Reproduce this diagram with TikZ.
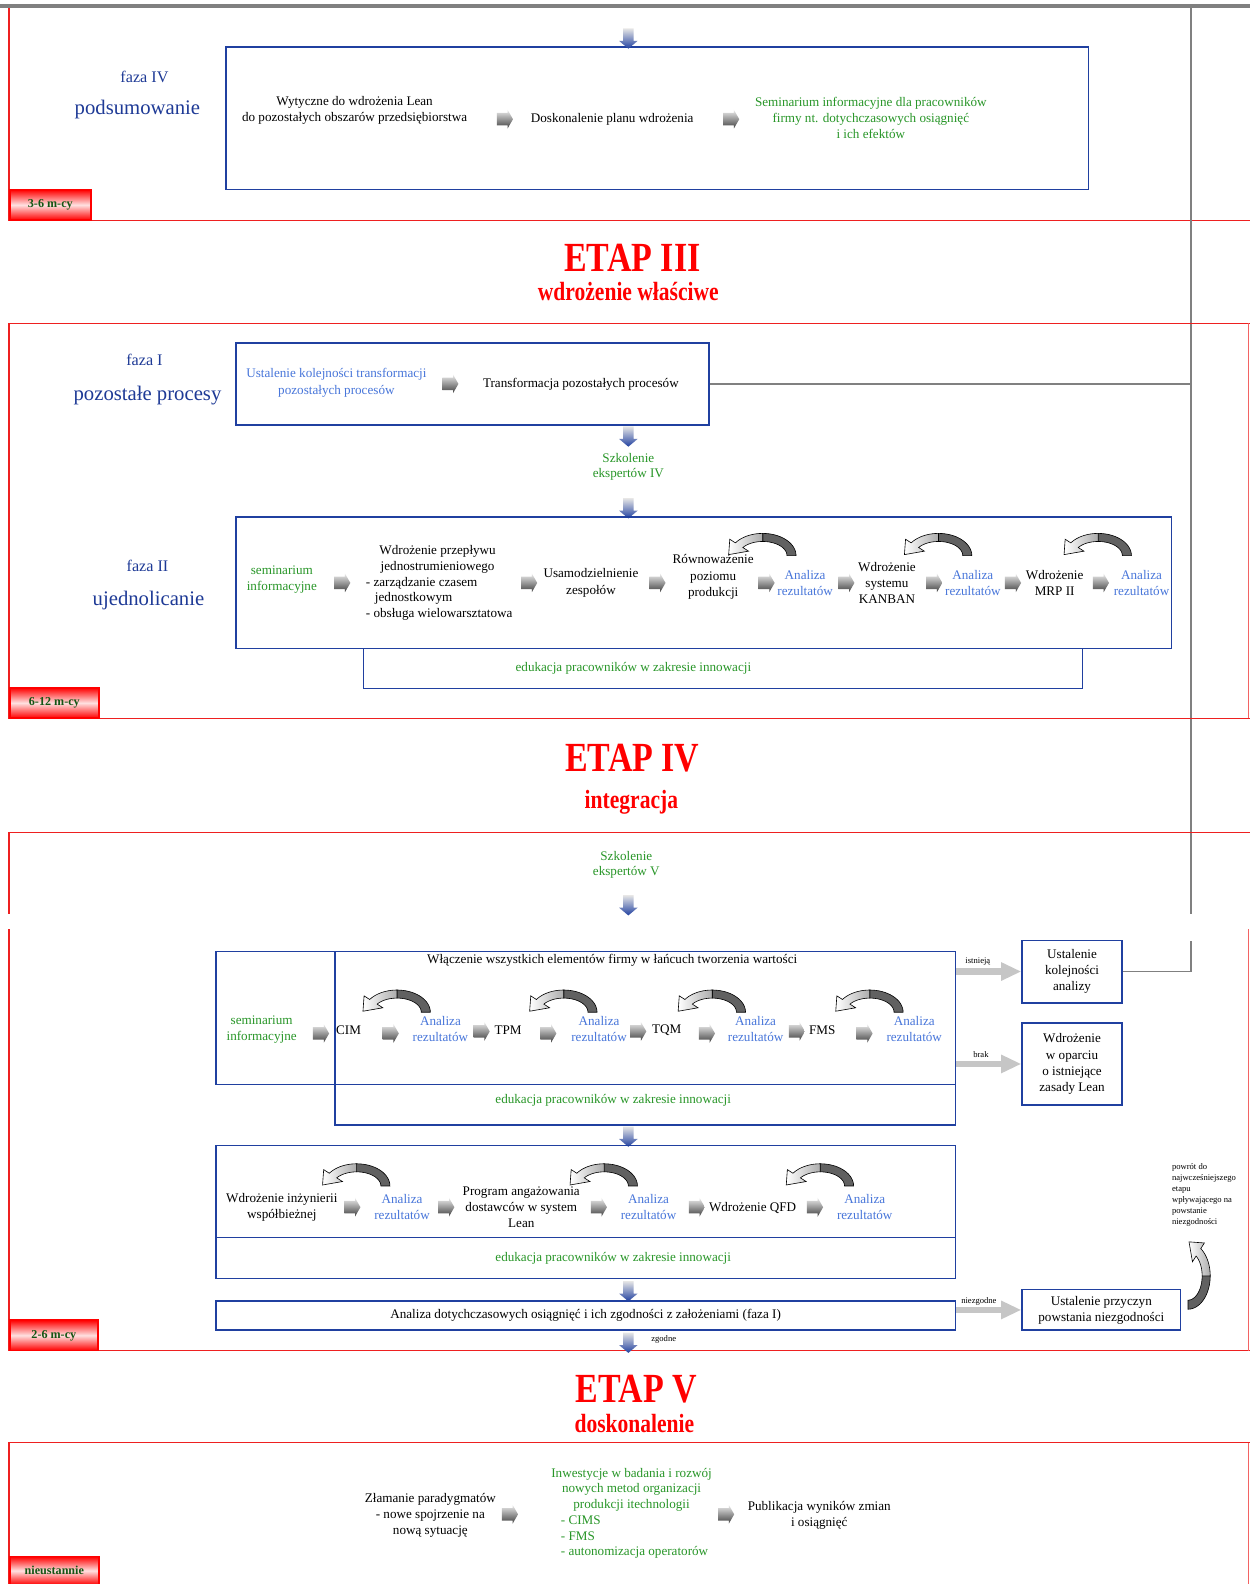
\documentclass[tikz,border=0pt]{standalone}
\usepackage{fontspec}
\setmainfont{Liberation Serif}
\newfontfamily\condfont{Liberation Serif}[FakeStretch=0.82]
\usetikzlibrary{shapes.arrows,arrows.meta}
\definecolor{fazablue}{RGB}{30,58,150}
\definecolor{boxblue}{RGB}{32,64,160}
\definecolor{anblue}{RGB}{72,118,218}
\definecolor{grn}{RGB}{40,150,40}
\definecolor{lblgreen}{RGB}{20,85,20}
\definecolor{redline}{RGB}{238,32,32}
\definecolor{linkgray}{RGB}{128,128,128}
\tikzset{
  every node/.style={font=\fontsize{13}{16}\selectfont, inner sep=0pt, align=center},
  bluebox/.style={draw=boxblue, line width=1.4pt, anchor=north west, inner sep=0pt},
  rframe/.style={draw=redline, line width=1.4pt},
  rside/.style={draw=redline!70, line width=1.2pt},
  fazatxt/.style={text=fazablue, font=\fontsize{16}{19}\selectfont},
  fazabig/.style={text=fazablue, font=\fontsize{20.5}{24}\selectfont},
  etap/.style={text=red, font=\condfont\bfseries\fontsize{41}{45}\selectfont},
  etapsub/.style={text=red, font=\condfont\bfseries\fontsize{26}{30}\selectfont},
  gtxt/.style={text=grn},
  atxt/.style={text=anblue},
  tinytxt/.style={font=\fontsize{8.5}{11}\selectfont},
  garr/.style={single arrow, draw=none, minimum height=16pt, inner xsep=4pt, inner ysep=6pt,
    single arrow head extend=3pt, single arrow tip angle=120,
    top color=gray!15, bottom color=black!75},
  darr/.style={single arrow, shape border rotate=270, draw=none, minimum height=20pt,
    inner xsep=5pt, inner ysep=4pt, single arrow head extend=4pt, single arrow tip angle=100,
    top color=gray!20, bottom color=boxblue},
  bigarr/.style={draw=gray!45, line width=6pt, -{Triangle[width=17pt,length=20pt]}},
  glink/.style={draw=linkgray, line width=1.2pt},
  mlabel/.style={draw=red, line width=1.6pt, anchor=north west, inner sep=0pt,
    top color=red, bottom color=red, middle color=red!12, text=lblgreen,
    font=\bfseries\fontsize{12}{14}\selectfont},
  pics/uturn/.style={code={
    \path[draw=black, line width=0.6pt, fill=black!62]
      plot[domain=0:-90, samples=18] ({33*cos(\x)},{22*sin(\x)})
      -- plot[domain=-90:0, samples=18] ({24*cos(\x)},{14*sin(\x)}) -- cycle;
    \path[draw=black, line width=0.6pt, left color=white, right color=gray!65]
      plot[domain=-90:-145, samples=12] ({33*cos(\x)},{22*sin(\x)})
      -- (-32.6,-16.2) -- (-33.7,-1) -- (-14.0,-4.4)
      -- plot[domain=-145:-90, samples=12] ({24*cos(\x)},{14*sin(\x)}) -- cycle;
  }},
}
\begin{document}
\begin{tikzpicture}[x=1pt,y=-1pt]
\useasboundingbox (0,0) rectangle (1237,1568);
\fill[white] (0,0) rectangle (1237,1568);

% ================= faza IV
\draw[linkgray, line width=4pt] (0,6) -- (1237,6);
\draw[rframe] (9,8) -- (9,218) -- (1237,218);
\coordinate (vtop) at (1179,8);
\coordinate (vbrk) at (1179,905);
\draw[glink] (vtop) -- (vbrk);

\node[fazatxt] (f4) at (143,76) {faza IV};
\node[fazabig] (f4b) at (136,108) {podsumowanie};
\node[bluebox, minimum width=854pt, minimum height=141pt] (b4) at (223,46) {};
\node[darr] (d0) at (622,36) {};
\node (t41) at (351,109) {Wytyczne do wdrożenia Lean\\do pozostałych obszarów przedsiębiorstwa};
\node[garr] (a41) at (498,118) {};
\node (t42) at (606,118) {Doskonalenie planu wdrożenia};
\node[garr] (a42) at (722,118) {};
\node[gtxt] (t43) at (862,117) {Seminarium informacyjne dla pracowników\\firmy nt. dotychczasowych osiągnięć\\i ich efektów};
\node[mlabel, minimum width=80pt, minimum height=30pt] (l1) at (9,187) {3-6 m-cy};

% ================= ETAP III
\node[etap] (e3) at (626,255) {ETAP III};
\node[etapsub] (e3s) at (622,289) {wdrożenie właściwe};

\draw[rframe] (1237,320) -- (9,320) -- (9,711) -- (1237,711);
\draw[rside] (1236,320) -- (1236,711);

\node[fazatxt] (f1) at (143,356) {faza I};
\node[fazabig] (f1b) at (146,392) {pozostałe procesy};
\node[bluebox, minimum width=468pt, minimum height=81pt] (b1) at (233,339) {};
\node[atxt] (t11) at (333,379) {Ustalenie kolejności transformacji\\pozostałych procesów};
\node[garr] (a11) at (444,380) {};
\node (t12) at (575,380) {Transformacja pozostałych procesów};
\draw[glink] (b1.east) -- (b1.east -| vtop);

\node[darr] (d1) at (622,430) {};
\node[gtxt, font=\fontsize{13}{15}\selectfont] (sz4) at (622,462) {Szkolenie\\ekspertów IV};
\node[darr] (d2) at (622,501) {};

\node[fazatxt] (f2) at (146,560) {faza II};
\node[fazabig] (f2b) at (147,594) {ujednolicanie};
\node[bluebox, minimum width=926pt, minimum height=130pt] (b2) at (233,511) {};
\node[bluebox, minimum width=712pt, minimum height=40pt] (e2) at (359,641) {};
\node[gtxt] (e2t) at (627,662) {edukacja pracowników w zakresie innowacji};

\node[gtxt] (r1) at (279,574) {seminarium\\informacyjne};
\node[garr] (ra1) at (337,577) {};
\node[anchor=west, align=left, font=\fontsize{13}{15.7}\selectfont] (r2) at (362,577)
  {\makebox[142pt]{Wdrożenie przepływu}\\\makebox[142pt]{jednostrumieniowego}\\- zarządzanie czasem\\\hspace*{9pt}jednostkowym\\- obsługa wielowarsztatowa};
\node[garr] (ra2) at (522,577) {};
\node (r3) at (585,577) {Usamodzielnienie\\zespołów};
\node[garr] (ra3) at (649,577) {};
\node (r4) at (706,571) {Równoważenie\\poziomu\\produkcji};
\node[garr] (ra4) at (757,577) {};
\node[atxt] (r5) at (797,577) {Analiza\\rezultatów};
\node[garr] (ra5) at (836,577) {};
\node (r6) at (878,577) {Wdrożenie\\systemu\\KANBAN};
\node[garr] (ra6) at (923,577) {};
\node[atxt] (r7) at (963,577) {Analiza\\rezultatów};
\node[garr] (ra7) at (1001,577) {};
\node (r8) at (1044,577) {Wdrożenie\\MRP II};
\node[garr] (ra8) at (1088,577) {};
\node[atxt] (r9) at (1130,577) {Analiza\\rezultatów};
\pic (u1) at (755,550) {uturn};
\pic (u2) at (929,550) {uturn};
\pic (u3) at (1087,550) {uturn};

\node[mlabel, minimum width=88pt, minimum height=30pt] (l2) at (9,680) {6-12 m-cy};

% ================= ETAP IV
\node[etap] (e4) at (626,750) {ETAP IV};
\node[etapsub] (e4s) at (625,794) {integracja};

\draw[rframe] (1237,824) -- (9,824) -- (9,905);
\draw[rframe] (9,920) -- (9,1337) -- (1237,1337);
\draw[rside] (1236,920) -- (1236,1337);

\node[gtxt, font=\fontsize{13}{15}\selectfont] (sz5) at (620,856) {Szkolenie\\ekspertów V};
\node[darr] (d3) at (622,894) {};

\node[bluebox, minimum width=118pt, minimum height=132pt] (s4) at (213,941) {};
\node[bluebox, minimum width=614pt, minimum height=132pt] (m4) at (331,941) {};
\node[bluebox, minimum width=614pt, minimum height=40pt] (e4b) at (331,1073) {};
\node[gtxt] (e4t) at (607,1089) {edukacja pracowników w zakresie innowacji};
\node (m4t) at (606,951) {Włączenie wszystkich elementów firmy w łańcuch tworzenia wartości};

\node[gtxt] (q0) at (259,1019) {seminarium\\informacyjne};
\node[garr] (qa0) at (316,1023) {};
\node (q1) at (345,1020) {CIM};
\node[garr] (qa1) at (385,1023) {};
\node[atxt] (q2) at (436,1019) {Analiza\\rezultatów};
\node[garr] (qa2) at (475,1021) {};
\node (q3) at (503,1020) {TPM};
\node[garr] (qa3) at (541,1023) {};
\node[atxt] (q4) at (593,1019) {Analiza\\rezultatów};
\node[garr] (qa4) at (630,1021) {};
\node (q5) at (660,1020) {TQM};
\node[garr] (qa5) at (698,1023) {};
\node[atxt] (q6) at (748,1019) {Analiza\\rezultatów};
\node[garr] (qa6) at (787,1021) {};
\node (q7) at (814,1020) {FMS};
\node[garr] (qa7) at (854,1023) {};
\node[atxt] (q8) at (905,1019) {Analiza\\rezultatów};
\pic (u4) at (393,1002) {uturn};
\pic (u5) at (558,1002) {uturn};
\pic (u6) at (705,1002) {uturn};
\pic (u7) at (861,1002) {uturn};

\node[bluebox, minimum width=99pt, minimum height=62pt] (ust) at (1011,930) {Ustalenie\\kolejności\\analizy};
\node[bluebox, minimum width=99pt, minimum height=81pt] (wdl) at (1011,1012) {Wdrożenie\\w oparciu\\o istniejące\\zasady Lean};
\draw[bigarr] (ust.west -| m4.east) -- (ust.west);
\draw[bigarr] (wdl.west -| m4.east) -- (wdl.west);
\node[tinytxt] (ist) at (968,952) {istnieją};
\node[tinytxt] (brk) at (971,1044) {brak};
\coordinate (vb2) at (1179,931);
\draw[glink] (ust.east) -- (ust.east -| vb2) -- (vb2);

\node[darr] (d4) at (622,1123) {};
\node[bluebox, minimum width=732pt, minimum height=91pt] (b5) at (213,1133) {};
\node[bluebox, minimum width=732pt, minimum height=41pt] (e5) at (213,1224) {};
\node[gtxt] (e5t) at (607,1246) {edukacja pracowników w zakresie innowacji};

\node (p1) at (279,1195) {Wdrożenie inżynierii\\współbieżnej};
\node[garr] (pa1) at (347,1195) {};
\node[atxt] (p2) at (398,1195) {Analiza\\rezultatów};
\node[garr] (pa2) at (440,1195) {};
\node (p3) at (516,1195) {Program angażowania\\dostawców w system\\Lean};
\node[garr] (pa3) at (591,1195) {};
\node[atxt] (p4) at (642,1195) {Analiza\\rezultatów};
\node[garr] (pa4) at (688,1195) {};
\node (p5) at (745,1196) {Wdrożenie QFD};
\node[garr] (pa5) at (805,1195) {};
\node[atxt] (p6) at (856,1195) {Analiza\\rezultatów};
\pic (u8) at (353,1174) {uturn};
\pic (u9) at (598,1174) {uturn};
\pic (u10) at (812,1174) {uturn};

\node[darr] (d5) at (622,1276) {};
\node[bluebox, minimum width=732pt, minimum height=29pt] (b6) at (213,1287) {Analiza dotychczasowych osiągnięć i ich zgodności z założeniami (faza I)};
\node[bluebox, minimum width=157pt, minimum height=40pt] (prz) at (1011,1276) {Ustalenie przyczyn\\powstania niezgodności};
\draw[bigarr] (prz.west -| b6.east) -- (prz.west);
\node[tinytxt] (nzg) at (969,1288) {niezgodne};
\pic[rotate=-90] (u11) at (1176,1263) {uturn};
\node[tinytxt, anchor=west, align=left] (pow) at (1160,1183) {powrót do\\najwcześniejszego\\etapu\\wpływającego na\\powstanie\\niezgodności};
\node[darr] (d6) at (622,1327) {};
\node[tinytxt] (zg) at (657,1326) {zgodne};

\node[mlabel, minimum width=87pt, minimum height=30pt] (l3) at (9,1306) {2-6 m-cy};

% ================= ETAP V
\node[etap] (e5h) at (630,1375) {ETAP V};
\node[etapsub] (e5s) at (628,1409) {doskonalenie};

\draw[rframe] (1237,1428) -- (9,1428) -- (9,1568);
\draw[rside] (1236,1428) -- (1236,1568);

\node[font=\fontsize{13}{15.5}\selectfont] (z1) at (426,1500) {Złamanie paradygmatów\\- nowe spojrzenie na\\nową sytuację};
\node[garr] (za1) at (503,1499) {};
\node[gtxt, anchor=west, align=left, font=\fontsize{13}{15.6}\selectfont] (z2) at (550,1498)
  {\makebox[150pt]{Inwestycje w badania i rozwój}\\\makebox[150pt]{nowych metod organizacji}\\\makebox[150pt]{produkcji itechnologii}\\\hspace*{5pt}- CIMS\\\hspace*{5pt}- FMS\\\hspace*{5pt}- autonomizacja operatorów};
\node[garr] (za2) at (717,1499) {};
\node (z3) at (811,1500) {Publikacja wyników zmian\\i osiągnięć};

\node[mlabel, minimum width=88pt, minimum height=28pt] (l4) at (9,1540) {nieustannie};
\end{tikzpicture}
\end{document}
